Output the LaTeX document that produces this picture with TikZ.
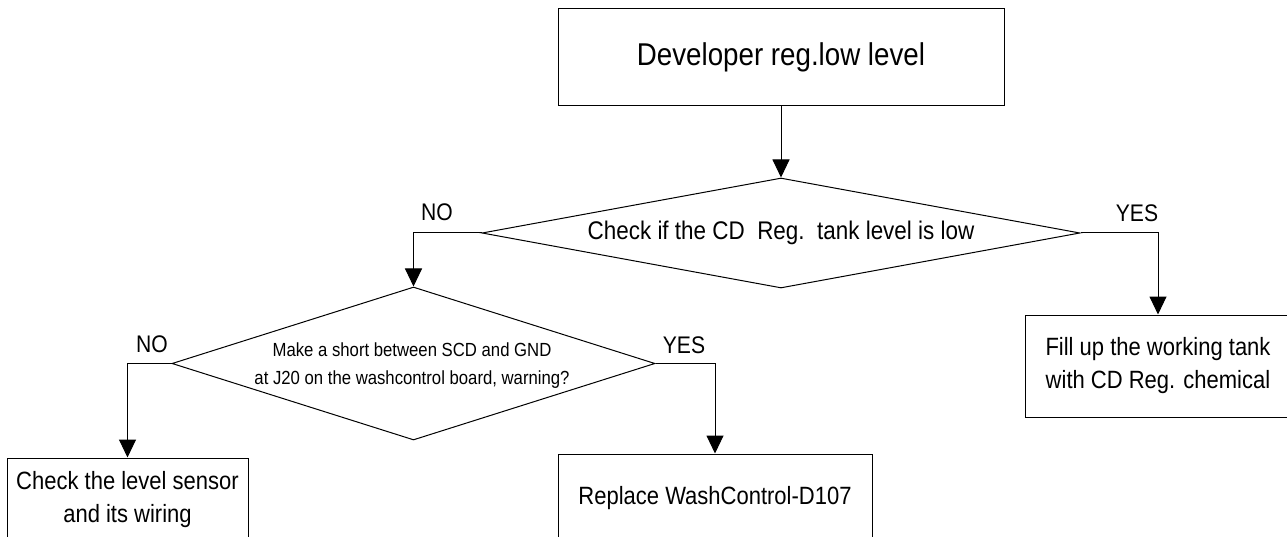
\documentclass[tikz,border=0pt]{standalone}
\usepackage{fontspec}
\setmainfont{Liberation Sans}[FakeStretch=0.88]
\usetikzlibrary{shapes.geometric,arrows.meta}
\tikzset{
  every node/.style={font=\fontsize{25}{33}\selectfont},
  boxnode/.style={draw=black, line width=1pt, rectangle, inner sep=0pt, align=center},
  decision/.style={draw=black, line width=1pt, diamond, inner sep=0pt, aspect=5},
  txt/.style={inner sep=0pt, align=center},
  conn/.style={draw=black, line width=1pt, -{Triangle[length=18pt,width=17pt]}},
  branch/.style={inner sep=0pt, font=\fontsize{24}{28}\selectfont}
}
\begin{document}
\begin{tikzpicture}[x=1pt,y=-1pt]
\useasboundingbox (0,0) rectangle (1287,537);
\clip (0,0) rectangle (1287,537);
\fill[white] (0,0) rectangle (1287,537);

\node[boxnode, minimum width=446pt, minimum height=97pt, font=\fontsize{31.5}{38}\selectfont] (top) at (781,57.5) {Developer reg.low level};

\node[decision, minimum width=598pt, minimum height=110pt] (d1) at (781,233) {};
\node[txt, font=\fontsize{25.5}{30}\selectfont] (d1t) at (d1.center) {Check if the CD\ \ Reg.\ \ tank level is low};

\node[decision, minimum width=483pt, minimum height=153pt] (d2) at (413.5,363.5) {};
\node[txt, font=\fontsize{19}{28}\selectfont] (d2t) at (412,366) {Make a short between SCD and GND\\at J20 on the washcontrol board, warning?};

\node[boxnode, minimum width=266pt, minimum height=102pt] (fill) at (1158,366) {Fill up the working tank\\with CD Reg. chemical};
\node[boxnode, minimum width=314pt, minimum height=88pt] (rep) at (715,498) {Replace WashControl-D107};
\node[boxnode, minimum width=241pt, minimum height=84pt] (chk) at (127.5,500) {Check the level sensor\\and its wiring};

\draw[conn] (top.south) -- (d1.north);
\draw[conn] (d1.west) -| (d2.north);
\draw[conn] (d1.east) -| (fill.north);
\draw[conn] (d2.west) -| (chk.north);
\draw[conn] (d2.east) -| (rep.north);

\node[branch] (no1) at (437,212) {NO};
\node[branch] (yes1) at (1137,213) {YES};
\node[branch] (no2) at (152,344.5) {NO};
\node[branch] (yes2) at (684,345) {YES};
\end{tikzpicture}
\end{document}
